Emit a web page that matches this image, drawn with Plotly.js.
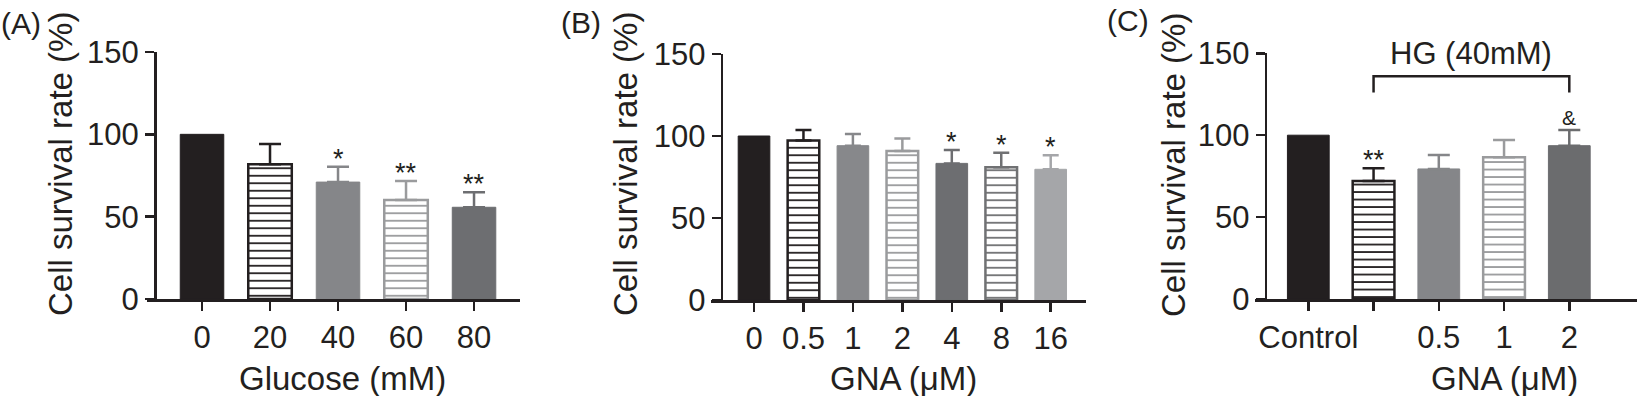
<!DOCTYPE html>
<html>
<head>
<meta charset="utf-8">
<script src="https://cdn.plot.ly/plotly-3.0.1.min.js"></script>
<style>html,body{margin:0;padding:0;background:#fff;}#chart{width:1645px;height:396px;}</style>
</head>
<body>
<div id="chart"></div>
<script>
// ---------- data ----------
const catsA = ['0', '20', '40', '60', '80'];
const meanA = [100, 81.8, 71.0, 60.1, 55.7];
const errA  = [0, 12.3, 9.3, 11.5, 9.1];
const sigA  = ['', '', '*', '**', '**'];

const catsB = ['0', '0.5', '1', '2', '4', '8', '16'];
const meanB = [100, 97.2, 94.1, 90.9, 83.3, 81.0, 79.7];
const errB  = [0, 6.5, 7.1, 7.5, 8.2, 8.8, 8.5];
const sigB  = ['', '', '', '', '*', '*', '*'];

const catsC = ['Control', 'HG', '0.5', '1', '2'];
const tickC = ['Control', '', '0.5', '1', '2'];
const meanC = [100, 72.0, 79.4, 86.5, 93.6];
const errC  = [0, 7.8, 8.5, 10.6, 9.6];
const sigC  = ['', '**', '', '', '&'];

const yTicks = [0, 50, 100, 150];

// ---------- styles ----------
const INK = '#231f20';
const S = (c, striped) => ({c: c, s: striped});
const styA = [S(INK,false), S(INK,true), S('#858689',false), S('#9a9b9d',true), S('#6d6e71',false)];
const styB = [S(INK,false), S(INK,true), S('#87888b',false), S('#9a9b9d',true), S('#6d6e71',false), S('#707173',true), S('#a5a6a9',false)];
const styC = [S(INK,false), S(INK,true), S('#858689',false), S('#9a9b9d',true), S('#6b6c6e',false)];

const W = 1645, H = 396;
const FONT = 'Liberation Sans, Arial, Helvetica, sans-serif';

const traces = [];
const annotations = [];

function panel(cats, mean, err, sig, sty, xa, ya, capW) {
  cats.forEach((c, i) => {
    const st = sty[i];
    const marker = st.s
      ? {color: '#ffffff', line: {color: st.c, width: 2.5},
         pattern: {shape: '-', fgcolor: st.c, bgcolor: '#ffffff', size: 7.5, solidity: 0.24}}
      : {color: st.c, line: {color: st.c, width: 1}};
    traces.push({
      type: 'bar', x: [c], y: [mean[i]], width: 0.64,
      xaxis: xa, yaxis: ya, marker: marker, showlegend: false, hoverinfo: 'skip',
      error_y: {type: 'data', symmetric: false, array: [err[i]], arrayminus: [0],
                visible: err[i] > 0, color: st.c, thickness: 2.5, width: capW}
    });
    if (sig[i]) {
      // category index used as position on the category axis
      annotations.push({
        xref: xa, yref: ya, x: i, y: mean[i] + err[i], text: sig[i],
        showarrow: false, yanchor: 'bottom', yshift: sig[i] === '&' ? -1 : -9,
        font: {family: FONT, size: sig[i] === '&' ? 21 : 27, color: INK}
      });
    }
  });
}

panel(catsA, meanA, errA, sigA, styA, 'x', 'y', 11);
panel(catsB, meanB, errB, sigB, styB, 'x2', 'y2', 8);
panel(catsC, meanC, errC, sigC, styC, 'x3', 'y3', 11);

function xAxis(dom, rng, anchor, cats, ticktext) {
  return {
    domain: [dom[0] / W, dom[1] / W], range: rng, anchor: anchor, type: 'category',
    showline: true, linecolor: INK, linewidth: 2.5, ticks: 'outside', ticklen: 9,
    tickwidth: 2.5, tickcolor: INK, showgrid: false, zeroline: false,
    tickvals: cats, ticktext: ticktext || cats,
    tickfont: {family: FONT, size: 31, color: INK}, fixedrange: true
  };
}
function yAxis(top, bottom, pos) {
  return {
    domain: [1 - bottom / H, 1 - top / H], range: [0, 150], anchor: 'free', position: pos / W,
    showline: true, linecolor: INK, linewidth: 2.5, ticks: 'outside', ticklen: 9,
    tickwidth: 2.5, tickcolor: INK, showgrid: false, zeroline: false,
    tickvals: yTicks, tickfont: {family: FONT, size: 31, color: INK}, fixedrange: true
  };
}

function txt(x, y, text, size, angle) {
  annotations.push({xref: 'paper', yref: 'paper', x: x / W, y: 1 - y / H, text: text,
    showarrow: false, xanchor: 'center', yanchor: 'middle', textangle: angle || 0,
    font: {family: FONT, size: size, color: INK}});
}
// panel labels
txt(21, 24, '(A)', 30);
txt(581, 22, '(B)', 30);
txt(1128, 21, '(C)', 30);
// y titles
txt(60, 164, 'Cell survival rate (%)', 33, -90);
txt(625, 164, 'Cell survival rate (%)', 33, -90);
txt(1173, 165, 'Cell survival rate (%)', 33, -90);
// x titles
txt(342, 378, 'Glucose (mM)', 33);
txt(903, 378, 'GNA (\u03bcM)', 33);
txt(1504, 378, 'GNA (\u03bcM)', 33);

// HG bracket + label
annotations.push({xref: 'x3', yref: 'y3', x: 2.5, y: 150, text: 'HG (40mM)', showarrow: false,
  xanchor: 'center', yanchor: 'middle', font: {family: FONT, size: 31, color: INK}});
const shapes = [{type: 'path', xref: 'x3', yref: 'y3',
  path: 'M 1,126 L 1,136 L 4,136 L 4,126', line: {color: INK, width: 2.5}}];

const layout = {
  width: W, height: H, margin: {l: 0, r: 0, t: 0, b: 0},
  paper_bgcolor: '#ffffff', plot_bgcolor: 'rgba(0,0,0,0)',
  barmode: 'overlay', showlegend: false,
  font: {family: FONT, color: INK},
  xaxis: xAxis([147, 520], [-0.809, 4.676], 'y', catsA),
  yaxis: yAxis(52, 299, 155),
  xaxis2: xAxis([710.7, 1086], [-0.876, 6.714], 'y2', catsB),
  yaxis2: yAxis(54, 300, 721.7),
  xaxis3: xAxis([1255, 1636.7], [-0.817, 5.033], 'y3', catsC, tickC),
  yaxis3: yAxis(53.3, 299, 1265.7),
  annotations: annotations, shapes: shapes
};

Plotly.newPlot('chart', traces, layout, {staticPlot: true, displayModeBar: false});
</script>
</body>
</html>
